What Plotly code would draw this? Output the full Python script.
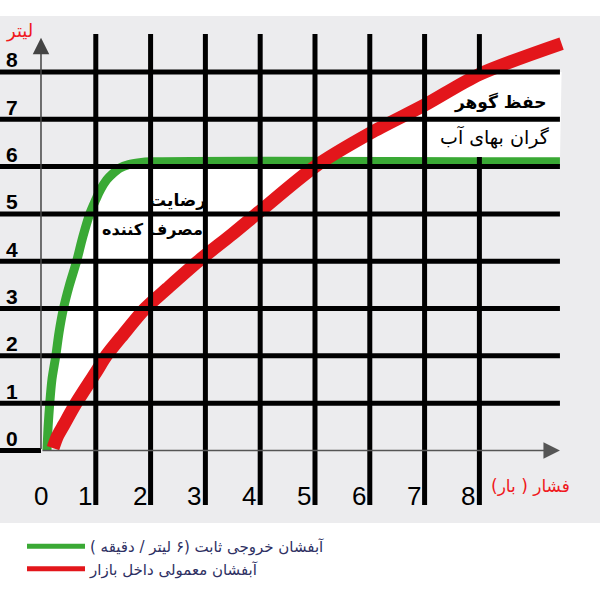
import plotly.graph_objects as go
import numpy as np

# axis ticks (pressure in bar, flow in litres)
pressure_ticks = [0, 1, 2, 3, 4, 5, 6, 7, 8]
pressure_labels = ["0", "1", "2", "3", "4", "5", "6", "7", "8"]
flow_ticks = [0, 1, 2, 3, 4, 5, 6, 7, 8]
flow_labels = ["0", "1", "2", "3", "4", "5", "6", "7", "8"]

# constant-output aerator (6 l/min)
green_x = [0.11, 0.13, 0.16, 0.2, 0.27, 0.33, 0.41, 0.52, 0.65, 0.76, 0.89,
           1.0, 1.08, 1.2, 1.3, 1.44, 1.6, 1.8, 2.0, 9.47]
green_y = [0.0, 0.5, 1.0, 1.5, 2.0, 2.5, 3.0, 3.5, 4.0, 4.5, 5.0,
           5.3, 5.5, 5.72, 5.84, 5.97, 6.04, 6.08, 6.1, 6.1]

# ordinary aerator from the market
red_x = [0.22, 0.3, 0.42, 0.64, 1.0, 1.19, 1.5, 1.9, 2.3, 2.87, 3.5, 4.0,
         5.0, 6.0, 7.0, 8.0, 9.5]
red_y = [0.05, 0.3, 0.55, 1.0, 1.65, 2.0, 2.45, 3.0, 3.42, 4.0, 4.58, 5.06,
         6.0, 6.7, 7.3, 7.95, 8.6]

green_name = "آبفشان خروجی ثابت (۶ لیتر / دقیقه )"
red_name = "آبفشان معمولی داخل بازار"
y_title = "لیتر"
x_title = "فشار ( بار)"
left_note = ["رضایت", "مصرف کننده"]
right_note = ["حفظ گوهر", "گران بهای آب"]

GREEN = "#3aa935"
RED = "#e3161b"
RTL = lambda s: "\u202b" + s + "\u202c"

x_lo, x_hi = -0.748, 10.201
y_lo, y_hi = -3.159, 9.52
grid_left, grid_right = x_lo, 9.47
grid_bottom, grid_top = -1.15, 8.8

fig = go.Figure()

# white area between the two curves (top clipped at the 8 line)
fill_x = list(green_x) + list(red_x[::-1])
fill_y = list(green_y) + list(np.minimum(red_y, flow_ticks[-1])[::-1])
fig.add_trace(go.Scatter(x=fill_x, y=fill_y, mode="lines", fill="toself",
                         fillcolor="white", line=dict(width=0),
                         showlegend=False, hoverinfo="skip"))

fig.add_trace(go.Scatter(x=green_x, y=green_y, mode="lines",
                         line=dict(color=GREEN, width=9, shape="spline", smoothing=0.8),
                         showlegend=False))
fig.add_trace(go.Scatter(x=red_x, y=red_y, mode="lines",
                         line=dict(color=RED, width=13, shape="spline", smoothing=0.8),
                         showlegend=False))

# legend entries
fig.add_trace(go.Scatter(x=[None], y=[None], mode="lines", name=RTL(green_name),
                         line=dict(color=GREEN, width=5)))
fig.add_trace(go.Scatter(x=[None], y=[None], mode="lines", name=RTL(red_name),
                         line=dict(color=RED, width=5)))

shapes = [dict(type="rect", xref="paper", yref="paper", x0=0, x1=1,
               y0=1 - 523 / 600, y1=1 - 16 / 600, fillcolor="#ececee",
               line=dict(width=0), layer="below")]

grid = dict(color="black", width=5)
# vertical lines; the one at 8 is hidden behind the note box
for p in pressure_ticks[1:]:
    if p == pressure_ticks[-1]:
        spans = [(grid_bottom, 6.2), (flow_ticks[-1], grid_top)]
    else:
        spans = [(grid_bottom, grid_top)]
    for y0, y1 in spans:
        shapes.append(dict(type="line", xref="x", yref="y", x0=p, x1=p,
                           y0=y0, y1=y1, line=grid, layer="above"))
# horizontal lines
for f in flow_ticks:
    x1 = 0 if f == 0 else grid_right
    shapes.append(dict(type="line", xref="x", yref="y", x0=grid_left, x1=x1,
                       y0=f, y1=f, line=grid, layer="above"))

ann = []
# axis arrows
ann.append(dict(x=0, y=8.72, ax=0, ay=0, xref="x", yref="y", axref="x", ayref="y",
                text="", showarrow=True, arrowhead=2, arrowsize=2.2,
                arrowwidth=1.5, arrowcolor="#444444", standoff=0))
ann.append(dict(x=9.47, y=0, ax=0, ay=0, xref="x", yref="y", axref="x", ayref="y",
                text="", showarrow=True, arrowhead=2, arrowsize=2.2,
                arrowwidth=1.5, arrowcolor="#555555", standoff=0))

for f, lab in zip(flow_ticks, flow_labels):
    ann.append(dict(x=-0.53, y=f, xref="x", yref="y", text="<b>" + lab + "</b>",
                    showarrow=False, yshift=12,
                    font=dict(family="Liberation Sans", size=21, color="black")))
for p, lab in zip(pressure_ticks, pressure_labels):
    ann.append(dict(x=p, y=0, xref="x", yref="y", text=lab, showarrow=False,
                    yshift=-45, xshift=0 if p == 0 else -11,
                    font=dict(family="Liberation Sans", size=26, color="black")))

ann.append(dict(x=-0.4, y=8.87, xref="x", yref="y", text=RTL(y_title),
                showarrow=False, font=dict(family="DejaVu Sans", size=18, color="#f01820")))
ann.append(dict(x=8.94, y=-0.75, xref="x", yref="y", text=RTL(x_title),
                showarrow=False, font=dict(family="DejaVu Sans", size=17, color="#f01820")))

note_font = dict(family="DejaVu Sans", size=17, color="black")
ann.append(dict(x=2.5, y=5.29, xref="x", yref="y", text="<b>" + RTL(left_note[0]) + "</b>",
                showarrow=False, font=note_font))
ann.append(dict(x=2.03, y=4.66, xref="x", yref="y", text="<b>" + RTL(left_note[1]) + "</b>",
                showarrow=False, font=dict(family="DejaVu Sans", size=16, color="black")))
ann.append(dict(x=8.38, y=7.36, xref="x", yref="y", text="<b>" + RTL(right_note[0]) + "</b>",
                showarrow=False, font=note_font))
ann.append(dict(x=8.28, y=6.63, xref="x", yref="y", text=RTL(right_note[1]),
                showarrow=False, font=dict(family="DejaVu Sans", size=19, color="black")))

fig.update_layout(
    width=600, height=600, autosize=False,
    margin=dict(l=0, r=0, t=0, b=0),
    paper_bgcolor="white", plot_bgcolor="rgba(0,0,0,0)",
    xaxis=dict(range=[x_lo, x_hi], visible=False, fixedrange=True),
    yaxis=dict(range=[y_lo, y_hi], visible=False, fixedrange=True),
    shapes=shapes, annotations=ann,
    legend=dict(x=22 / 600, y=1 - 530 / 600, xanchor="left", yanchor="top",
                itemwidth=58, bgcolor="rgba(0,0,0,0)",
                font=dict(family="DejaVu Sans", size=15, color="#2e3063")),
    showlegend=True,
)

# drop the browser's default page margin so the figure sits at the window origin
fig.write_html("out.html", config={"displayModeBar": False},
               post_script="document.body.style.margin = '0';")
